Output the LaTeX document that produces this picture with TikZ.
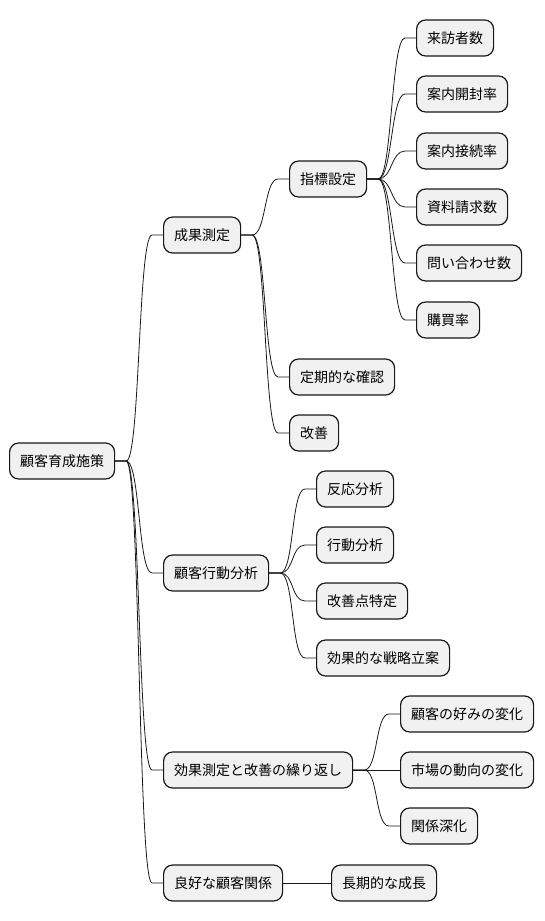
\documentclass[tikz,border=0pt]{standalone}
\usepackage{fontspec}
\setmainfont{Noto Sans CJK JP}
\usepackage{xcolor}
\usepackage{tikz}

\definecolor{nodefill}{HTML}{F1F1F1}
\definecolor{nodeline}{HTML}{181818}

\tikzset{
    topic/.style={draw=nodeline,fill=nodefill,line width=1.2pt,rounded corners=9pt,
        anchor=west,minimum height=36pt,inner xsep=10.5pt,inner ysep=0pt,
        font=\fontsize{14pt}{16pt}\selectfont},
    branch/.style={draw=nodeline,line width=0.8pt}
}

\begin{document}
\begin{tikzpicture}[x=1pt,y=-1pt]
    % \draw[help lines] grid (544,921);
    \useasboundingbox (0,0) rectangle (544,921);

    % Root
    \node[topic] (root) at (9,461) {顧客育成施策};

    % First level
    \node[topic] (seika)      at (163,235) {成果測定};
    \node[topic] (kodo)       at (163,573) {顧客行動分析};
    \node[topic] (kurikaeshi) at (163,770) {効果測定と改善の繰り返し};
    \node[topic] (ryoko)      at (163,883) {良好な顧客関係};

    % Under seika
    \node[topic] (shihyo) at (289,179) {指標設定};
    \node[topic] (teiki)  at (289,377) {定期的な確認};
    \node[topic] (kaizen) at (289,433) {改善};

    % Under shihyo
    \node[topic] (raiho)     at (416,38)  {来訪者数};
    \node[topic] (kaifu)     at (416,94)  {案内開封率};
    \node[topic] (setsuzoku) at (416,151) {案内接続率};
    \node[topic] (shiryo)    at (416,207) {資料請求数};
    \node[topic] (toiawase)  at (416,263) {問い合わせ数};
    \node[topic] (kobai)     at (416,320) {購買率};

    % Under kodo
    \node[topic] (hanno)     at (316,489) {反応分析};
    \node[topic] (kbunseki)  at (316,545) {行動分析};
    \node[topic] (kaizenten) at (316,601) {改善点特定};
    \node[topic] (senryaku)  at (316,658) {効果的な戦略立案};

    % Under kurikaeshi
    \node[topic] (konomi) at (400,714) {顧客の好みの変化};
    \node[topic] (shijo)  at (400,770) {市場の動向の変化};
    \node[topic] (shinka) at (400,826) {関係深化};

    % Under ryoko
    \node[topic] (seicho) at (331,883) {長期的な成長};

    % Branches
    \foreach \p/\c in {root/seika,root/kodo,root/kurikaeshi,root/ryoko,
            seika/shihyo,seika/teiki,seika/kaizen,
            shihyo/raiho,shihyo/kaifu,shihyo/setsuzoku,shihyo/shiryo,shihyo/toiawase,shihyo/kobai,
            kodo/hanno,kodo/kbunseki,kodo/kaizenten,kodo/senryaku,
            kurikaeshi/konomi,kurikaeshi/shijo,kurikaeshi/shinka,
            ryoko/seicho} {
        \draw[branch] (\p.east) -- ++(11,0)
            .. controls +(14,0) and +(-14,0) .. ([xshift=-11pt]\c.west) -- (\c.west);
    }

\end{tikzpicture}
\end{document}
